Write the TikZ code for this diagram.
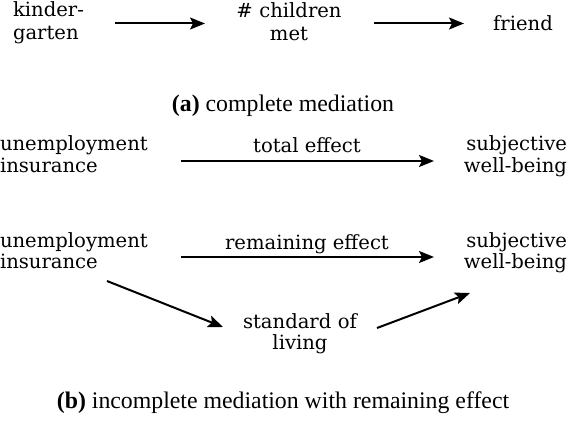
\documentclass[tikz,border=0pt]{standalone}
\usepackage{fontspec}
\setmainfont{DejaVu Serif}
\newfontfamily\capfont{Liberation Serif}
\usetikzlibrary{arrows.meta,calc}
\begin{document}
\begin{tikzpicture}[x=1pt,y=1pt,
  lab/.style={inner sep=0pt, outer sep=0pt, font=\fontsize{19.6}{21.5}\selectfont},
  labwide/.style={lab, font=\fontsize{19.6}{22.8}\selectfont},
  captext/.style={inner sep=0pt, outer sep=0pt, font=\capfont\fontsize{23.8}{28}\selectfont},
  arr/.style={line width=2pt, -{Stealth[length=15pt,width=12pt,inset=3pt]}}]
\useasboundingbox (0,0) rectangle (567,-422);
% (a)
\node[labwide, text width=72pt, align=left, anchor=base west] (kg) at (13,-17) {kinder-\\garten};
\node[labwide, text width=112pt, align=center, anchor=base] (cm) at (289,-18) {\# children\\met};
\node[lab, text width=60pt, align=center, anchor=base] (fr) at (523,-31) {friend};
\draw[arr] ($(kg.base east)+(30,-6.5)$) -- ($(cm.base west)+(-28,-5.5)$);
\draw[arr] ($(cm.base east)+(29,-5.5)$) -- ($(fr.base west)+(-29,7.5)$);
\node[captext, anchor=base] (capa) at (283,-112) {\textbf{(a)} complete mediation};
% (b) top
\node[lab, text width=150pt, align=left, anchor=base west] (ui1) at (0,-151) {unemployment\\insurance};
\node[lab, text width=117pt, align=right, anchor=base east] (sw1) at (567,-151) {subjective\\well-being};
\draw[arr] ($(ui1.base east)+(31,-10)$) -- ($(sw1.base west)+(-16,-10)$);
\node[lab, anchor=base] (te) at (307,-153) {total effect};
% (b) bottom
\node[lab, text width=150pt, align=left, anchor=base west] (ui2) at (0,-247) {unemployment\\insurance};
\node[lab, text width=117pt, align=right, anchor=base east] (sw2) at (567,-247) {subjective\\well-being};
\draw[arr] ($(ui2.base east)+(31,-10)$) -- ($(sw2.base west)+(-16,-10)$);
\node[lab, anchor=base] (re) at (307,-249) {remaining effect};
\node[lab, text width=120pt, align=center, anchor=base] (sl) at (300,-328) {standard of\\living};
\draw[arr] ($(ui2.base west)+(107,-34)$) -- ($(sl.base west)+(-17,1)$);
\draw[arr] ($(sl.base east)+(17,0)$) -- ($(sw2.base west)+(20,-46)$);
\node[captext, anchor=base] (capb) at (283,-408) {\textbf{(b)} incomplete mediation with remaining effect};
\end{tikzpicture}
\end{document}
